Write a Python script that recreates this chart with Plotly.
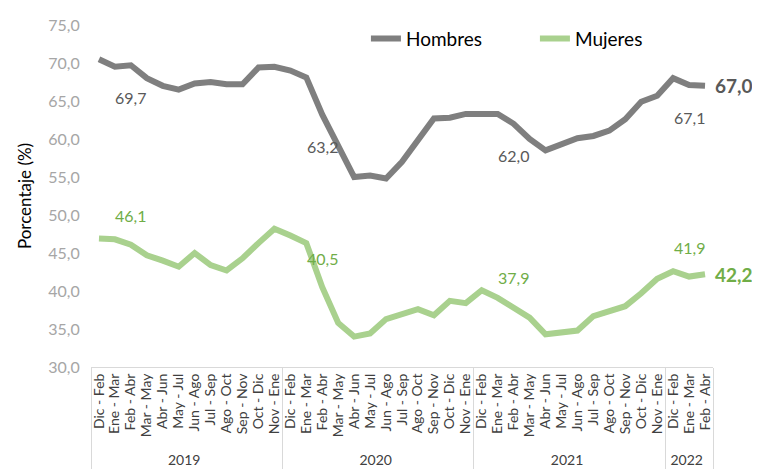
import plotly.graph_objects as go

years = ["2019"] * 12 + ["2020"] * 12 + ["2021"] * 12 + ["2022"] * 3
periods_year = ["Dic - Feb", "Ene - Mar", "Feb - Abr", "Mar - May", "Abr - Jun", "May - Jul",
                "Jun - Ago", "Jul - Sep", "Ago - Oct", "Sep - Nov", "Oct - Dic", "Nov - Ene"]
periods = periods_year * 3 + periods_year[:3]

hombres = [70.5, 69.5, 69.7, 68.0, 67.0, 66.5, 67.3, 67.5, 67.2, 67.2, 69.4, 69.5,
           69.0, 68.1, 63.2, 59.2, 55.0, 55.2, 54.8, 57.0, 59.9, 62.7, 62.8, 63.3,
           63.3, 63.3, 62.0, 60.0, 58.5, 59.4, 60.1, 60.4, 61.1, 62.6, 64.9, 65.7,
           68.0, 67.1, 67.0]
mujeres = [46.9, 46.8, 46.1, 44.7, 44.0, 43.2, 45.0, 43.4, 42.7, 44.3, 46.3, 48.2,
           47.3, 46.3, 40.5, 35.8, 34.0, 34.4, 36.3, 36.9, 37.6, 36.8, 38.7, 38.4,
           40.1, 39.1, 37.9, 36.5, 34.3, 34.6, 34.8, 36.7, 37.4, 38.0, 39.7, 41.6,
           42.6, 41.9, 42.2]
label_idx = [2, 14, 26, 37]
last_idx = 38

GRAY = "#7F7F7F"
GRAY_TXT = "#595959"
GREEN = "#A9D18E"
GREEN_TXT = "#70AD47"
FONT = "Lato, Carlito, Calibri, sans-serif"

def fmt(v):
    return f"{v:.1f}".replace(".", ",")

fig = go.Figure()
fig.add_trace(go.Scatter(x=[years, periods], y=hombres, mode="lines", name="Hombres",
                         line=dict(color=GRAY, width=6)))
fig.add_trace(go.Scatter(x=[years, periods], y=mujeres, mode="lines", name="Mujeres",
                         line=dict(color=GREEN, width=6)))

ann = []
for i in label_idx:
    ann.append(dict(x=i, y=hombres[i], xref="x", yref="y", text=fmt(hombres[i]), showarrow=False,
                    yshift=-32, font=dict(color=GRAY_TXT, size=16, family=FONT)))
    ann.append(dict(x=i, y=mujeres[i], xref="x", yref="y", text=fmt(mujeres[i]), showarrow=False,
                    yshift=29, font=dict(color=GREEN_TXT, size=16, family=FONT)))
ann.append(dict(x=last_idx, y=hombres[last_idx], xref="x", yref="y", text="<b>" + fmt(hombres[last_idx]) + "</b>",
                showarrow=False, xanchor="left", xshift=8, font=dict(color=GRAY_TXT, size=19, family=FONT)))
ann.append(dict(x=last_idx, y=mujeres[last_idx], xref="x", yref="y", text="<b>" + fmt(mujeres[last_idx]) + "</b>",
                showarrow=False, xanchor="left", xshift=8, font=dict(color=GREEN_TXT, size=19, family=FONT)))

fig.update_layout(
    width=760, height=472,
    margin=dict(l=83, r=55, t=14, b=113),
    paper_bgcolor="white", plot_bgcolor="white",
    separators=",.",
    font=dict(family=FONT),
    annotations=ann,
    showlegend=True,
    legend=dict(orientation="h", x=0.442, y=0.96, xanchor="left", yanchor="middle",
                font=dict(size=19, color="#000000", family=FONT), bgcolor="rgba(0,0,0,0)",
                entrywidth=124, entrywidthmode="pixels", traceorder="normal"),
    xaxis=dict(type="multicategory", tickangle=-90, showgrid=False, showline=True,
               range=[-0.5, len(periods) - 0.5], autorange=False, dtick=1, automargin=False,
               linecolor="#D9D9D9", linewidth=1, mirror=False, showdividers=True,
               dividercolor="#D9D9D9", dividerwidth=1,
               tickfont=dict(size=14, color="#404040", family=FONT), ticks=""),
    yaxis=dict(range=[30, 75], dtick=5, tickformat=".1f", showgrid=False, zeroline=False,
               showline=False, automargin=False,
               ticks="outside", ticklen=7, tickcolor="rgba(0,0,0,0)",
               tickfont=dict(size=16, color="#A6A6A6", family=FONT),
               title=dict(text="Porcentaje (%)", font=dict(size=17, color="#000000", family=FONT),
                          standoff=12)),
)

fig.write_html("out.html")
